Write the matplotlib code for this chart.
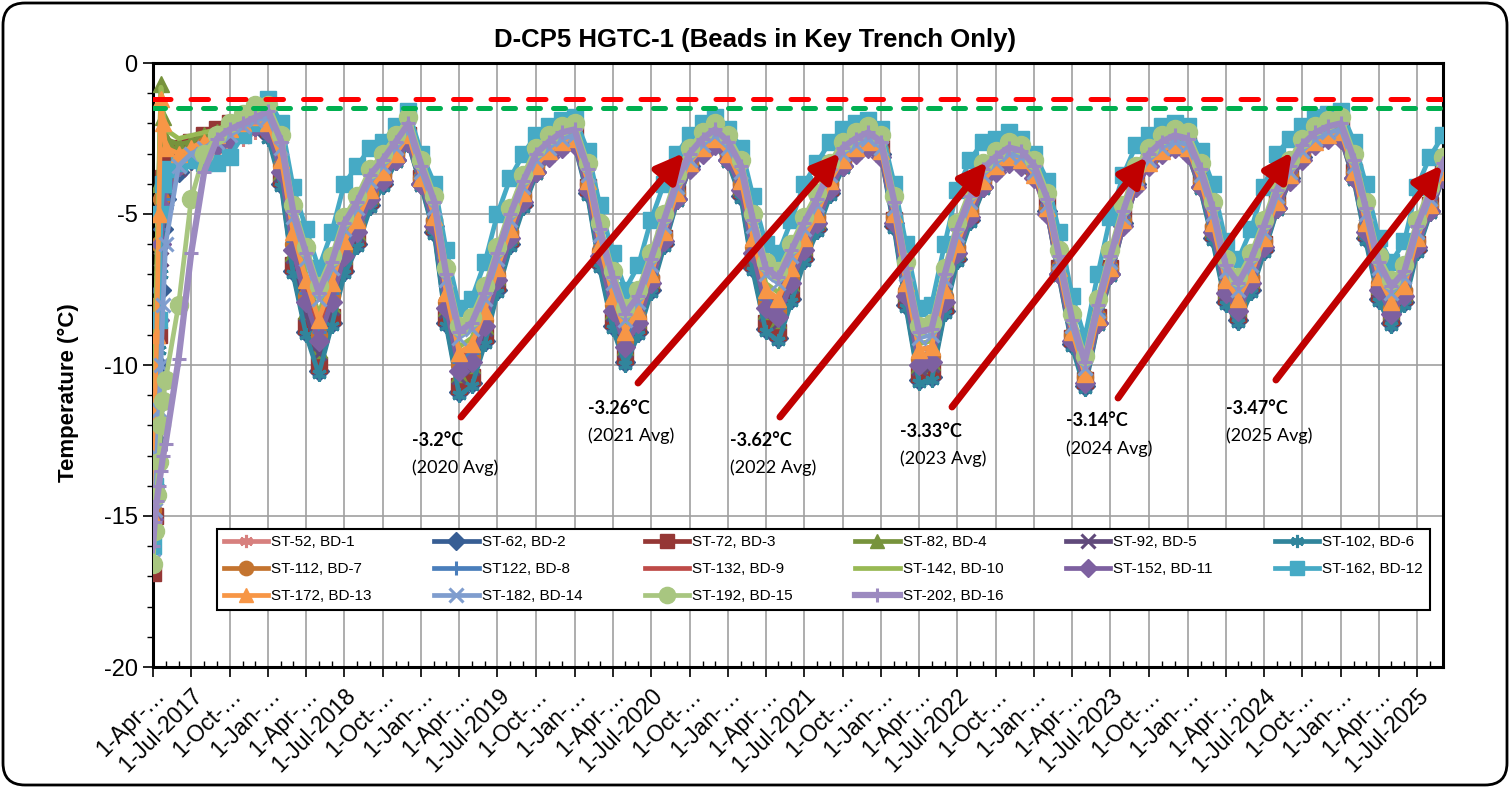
import pandas as pd
import matplotlib
matplotlib.use("Agg")
import matplotlib.pyplot as plt
import matplotlib.dates as mdates
from matplotlib.ticker import MultipleLocator
from matplotlib.patches import FancyBboxPatch
from matplotlib.transforms import IdentityTransform

""" D-CP5 HGTC-1 bead temperatures in the key trench. """

# reading dates: extra readings during the April 2017 freeze-back,
# then the first of every month
early_dates = ["2017-04-01", "2017-04-05", "2017-04-10", "2017-04-15",
               "2017-04-20", "2017-04-25"]
monthly_start = "2017-05-01"
monthly_end = "2025-09-01"

# bead temperatures (deg C), one row per calendar year
st52_bd1 = [
    -14.8, -13.0, -11.0, -8.5, -6.0, -4.8, -4.0, -3.6, -3.3, -3.0, -3.0, -2.8, -2.5, -2.3,
    -2.4, -3.9, -6.6, -8.5, -9.8, -8.3, -6.7, -5.9, -4.7, -4.0, -3.3, -2.7,
    -4.1, -5.6, -8.4, -10.6, -10.3, -9.0, -7.4, -6.0, -4.7, -3.7, -3.1, -2.8,
    -2.7, -4.3, -6.6, -8.5, -9.7, -8.8, -7.5, -6.0, -4.6, -3.5, -3.0, -2.7,
    -3.3, -4.4, -6.6, -8.5, -8.8, -7.6, -6.4, -5.5, -4.3, -3.5, -3.0, -2.8,
    -3.1, -5.4, -7.9, -10.3, -10.2, -8.1, -6.5, -5.2, -4.2, -3.6, -3.3, -3.4,
    -3.8, -5.0, -7.1, -9.3, -10.7, -8.7, -7.1, -5.4, -4.1, -3.4, -3.0, -2.8,
    -3.0, -4.2, -5.8, -7.8, -8.4, -7.5, -6.2, -4.9, -3.9, -3.2, -2.7, -2.5,
    -2.5, -3.9, -5.8, -7.7, -8.5, -7.9, -6.2, -5.0, -3.8]
st62_bd2 = [
    -15.5, -14.0, -12.5, -10.0, -7.5, -5.5, -4.5, -3.6, -3.2, -2.9, -2.7, -2.5, -2.3, -2.1,
    -2.4, -4.0, -6.9, -8.9, -10.2, -8.6, -6.9, -6.0, -4.7, -4.0, -3.2, -2.6,
    -4.0, -5.6, -8.6, -10.9, -10.6, -9.2, -7.5, -6.0, -4.7, -3.6, -3.0, -2.7,
    -2.6, -4.3, -6.7, -8.7, -9.9, -8.9, -7.5, -6.0, -4.5, -3.4, -2.9, -2.6,
    -3.2, -4.4, -6.8, -8.8, -9.1, -7.8, -6.5, -5.5, -4.3, -3.4, -2.9, -2.7,
    -3.0, -5.4, -8.0, -10.5, -10.4, -8.2, -6.5, -5.2, -4.1, -3.5, -3.2, -3.3,
    -3.6, -4.9, -7.0, -9.3, -10.7, -8.6, -7.0, -5.3, -4.0, -3.2, -2.8, -2.6,
    -2.9, -4.1, -5.8, -7.9, -8.5, -7.5, -6.2, -4.8, -3.8, -3.1, -2.5, -2.3,
    -2.4, -3.8, -5.8, -7.8, -8.6, -7.9, -6.2, -4.9, -3.7]
st72_bd3 = [
    -16.9, -15.0, -13.0, -9.0, -5.0, -3.8, -3.2, -2.8, -2.6, -2.4, -2.2, -2.0, -1.8, -1.7,
    -2.2, -3.8, -6.7, -8.7, -10.0, -8.4, -6.7, -5.8, -4.5, -3.8, -3.0, -2.4,
    -3.8, -5.4, -8.4, -10.7, -10.4, -9.0, -7.3, -5.8, -4.5, -3.4, -2.8, -2.5,
    -2.4, -4.1, -6.5, -8.5, -9.7, -8.7, -7.3, -5.8, -4.3, -3.2, -2.7, -2.4,
    -3.0, -4.2, -6.6, -8.6, -8.9, -7.6, -6.3, -5.3, -4.1, -3.2, -2.7, -2.5,
    -2.8, -5.2, -7.8, -10.3, -10.2, -8.0, -6.3, -5.0, -3.9, -3.3, -3.0, -3.1,
    -3.4, -4.7, -6.8, -9.1, -10.5, -8.4, -6.8, -5.1, -3.8, -3.0, -2.6, -2.4,
    -2.7, -3.9, -5.6, -7.7, -8.3, -7.3, -6.0, -4.6, -3.6, -2.9, -2.3, -2.1,
    -2.2, -3.6, -5.6, -7.6, -8.4, -7.7, -6.0, -4.7, -3.5]
st82_bd4 = [
    -15.0, -11.5, -8.0, -4.0, -0.7, -1.8, -2.5, -2.7, -2.6, -2.4, -2.3, -2.1, -2.0, -1.9,
    -2.1, -3.6, -6.3, -8.2, -9.5, -8.0, -6.4, -5.6, -4.4, -3.7, -3.0, -2.4,
    -3.8, -5.3, -8.1, -10.3, -10.0, -8.7, -7.1, -5.7, -4.4, -3.4, -2.8, -2.5,
    -2.4, -4.0, -6.3, -8.2, -9.4, -8.5, -7.2, -5.7, -4.3, -3.2, -2.7, -2.4,
    -3.0, -4.1, -6.3, -8.2, -8.5, -7.3, -6.1, -5.2, -4.0, -3.2, -2.7, -2.5,
    -2.8, -5.1, -7.6, -10.0, -9.9, -7.8, -6.2, -4.9, -3.9, -3.3, -3.0, -3.1,
    -3.5, -4.7, -6.8, -9.0, -10.4, -8.4, -6.8, -5.1, -3.8, -3.1, -2.7, -2.5,
    -2.7, -3.9, -5.5, -7.5, -8.1, -7.2, -5.9, -4.6, -3.6, -2.9, -2.4, -2.2,
    -2.2, -3.6, -5.5, -7.4, -8.2, -7.6, -5.9, -4.7, -3.5]
st92_bd5 = [
    -14.5, -12.5, -10.5, -8.5, -6.5, -5.3, -4.5, -3.5, -3.1, -2.8, -2.6, -2.4, -2.2, -2.0,
    -2.2, -3.7, -6.4, -8.3, -9.6, -8.1, -6.5, -5.7, -4.5, -3.8, -3.1, -2.5,
    -3.9, -5.4, -8.2, -10.4, -10.1, -8.8, -7.2, -5.8, -4.5, -3.5, -2.9, -2.6,
    -2.5, -4.1, -6.4, -8.3, -9.5, -8.6, -7.3, -5.8, -4.4, -3.3, -2.8, -2.5,
    -3.1, -4.2, -6.4, -8.3, -8.6, -7.4, -6.2, -5.3, -4.1, -3.3, -2.8, -2.6,
    -2.9, -5.2, -7.7, -10.1, -10.0, -7.9, -6.3, -5.0, -4.0, -3.4, -3.1, -3.2,
    -3.6, -4.8, -6.9, -9.1, -10.5, -8.5, -6.9, -5.2, -3.9, -3.2, -2.8, -2.6,
    -2.8, -4.0, -5.6, -7.6, -8.2, -7.3, -6.0, -4.7, -3.7, -3.0, -2.5, -2.3,
    -2.3, -3.7, -5.6, -7.5, -8.3, -7.7, -6.0, -4.8, -3.6]
st102_bd6 = [
    -15.8, -14.0, -12.0, -9.5, -7.0, -5.2, -4.2, -3.5, -3.1, -2.8, -2.8, -2.6, -2.3, -2.1,
    -2.5, -4.1, -7.0, -9.0, -10.3, -8.7, -7.0, -6.1, -4.8, -4.1, -3.3, -2.7,
    -4.1, -5.7, -8.7, -11.0, -10.7, -9.3, -7.6, -6.1, -4.8, -3.7, -3.1, -2.8,
    -2.7, -4.4, -6.8, -8.8, -10.0, -9.0, -7.6, -6.1, -4.6, -3.5, -3.0, -2.7,
    -3.3, -4.5, -6.9, -8.9, -9.2, -7.9, -6.6, -5.6, -4.4, -3.5, -3.0, -2.8,
    -3.1, -5.5, -8.1, -10.6, -10.5, -8.3, -6.6, -5.3, -4.2, -3.6, -3.3, -3.4,
    -3.7, -5.0, -7.1, -9.4, -10.8, -8.7, -7.1, -5.4, -4.1, -3.3, -2.9, -2.7,
    -3.0, -4.2, -5.9, -8.0, -8.6, -7.6, -6.3, -4.9, -3.9, -3.2, -2.6, -2.4,
    -2.5, -3.9, -5.9, -7.9, -8.7, -8.0, -6.3, -5.0, -3.8]
st112_bd7 = [
    -14.8, -11.0, -8.0, -6.0, -4.5, -4.0, -3.8, -3.4, -3.0, -2.7, -2.5, -2.3, -2.1, -1.9,
    -2.1, -3.4, -6.0, -7.7, -9.0, -7.7, -6.2, -5.4, -4.3, -3.7, -3.0, -2.4,
    -3.8, -5.2, -7.9, -10.0, -9.7, -8.5, -7.0, -5.6, -4.4, -3.4, -2.9, -2.6,
    -2.5, -4.0, -6.2, -8.0, -9.2, -8.4, -7.1, -5.7, -4.3, -3.3, -2.8, -2.5,
    -3.0, -4.0, -6.1, -7.9, -8.2, -7.1, -6.0, -5.1, -4.0, -3.2, -2.8, -2.6,
    -2.9, -5.1, -7.5, -9.8, -9.7, -7.7, -6.1, -4.9, -3.9, -3.4, -3.1, -3.2,
    -3.6, -4.8, -6.8, -9.0, -10.4, -8.4, -6.8, -5.2, -3.9, -3.2, -2.8, -2.6,
    -2.8, -3.9, -5.4, -7.4, -8.0, -7.1, -5.9, -4.6, -3.7, -3.0, -2.5, -2.3,
    -2.3, -3.6, -5.4, -7.3, -8.1, -7.5, -5.9, -4.7, -3.6]
st122_bd8 = [
    -15.2, -13.3, -11.5, -8.5, -5.5, -4.5, -3.8, -3.3, -3.0, -2.7, -2.6, -2.4, -2.2, -2.0,
    -2.0, -3.3, -5.9, -7.6, -8.9, -7.6, -6.1, -5.3, -4.2, -3.6, -2.9, -2.3,
    -3.7, -5.1, -7.8, -9.9, -9.6, -8.4, -6.9, -5.5, -4.3, -3.3, -2.8, -2.5,
    -2.4, -3.9, -6.1, -7.9, -9.1, -8.3, -7.0, -5.6, -4.2, -3.2, -2.7, -2.4,
    -2.9, -3.9, -6.0, -7.8, -8.1, -7.0, -5.9, -5.0, -3.9, -3.1, -2.7, -2.5,
    -2.8, -5.0, -7.4, -9.7, -9.6, -7.6, -6.0, -4.8, -3.8, -3.3, -3.0, -3.1,
    -3.5, -4.7, -6.7, -8.9, -10.3, -8.3, -6.7, -5.1, -3.8, -3.1, -2.7, -2.5,
    -2.7, -3.8, -5.3, -7.3, -7.9, -7.0, -5.8, -4.5, -3.6, -2.9, -2.4, -2.2,
    -2.2, -3.5, -5.3, -7.2, -8.0, -7.4, -5.8, -4.6, -3.5]
st132_bd9 = [
    -15.6, -13.0, -10.0, -7.0, -4.0, -3.7, -3.5, -3.1, -2.8, -2.6, -2.4, -2.2, -2.0, -1.9,
    -1.8, -3.1, -5.7, -7.4, -8.7, -7.4, -5.9, -5.1, -4.0, -3.4, -2.7, -2.1,
    -3.5, -4.9, -7.6, -9.7, -9.4, -8.2, -6.7, -5.3, -4.1, -3.1, -2.6, -2.3,
    -2.2, -3.7, -5.9, -7.7, -8.9, -8.1, -6.8, -5.4, -4.0, -3.0, -2.5, -2.2,
    -2.7, -3.7, -5.8, -7.6, -7.9, -6.8, -5.7, -4.8, -3.7, -2.9, -2.5, -2.3,
    -2.6, -4.8, -7.2, -9.5, -9.4, -7.4, -5.8, -4.6, -3.6, -3.1, -2.8, -2.9,
    -3.3, -4.5, -6.5, -8.7, -10.1, -8.1, -6.5, -4.9, -3.6, -2.9, -2.5, -2.3,
    -2.5, -3.6, -5.1, -7.1, -7.7, -6.8, -5.6, -4.3, -3.4, -2.7, -2.2, -2.0,
    -2.0, -3.3, -5.1, -7.0, -7.8, -7.2, -5.6, -4.4, -3.3]
st142_bd10 = [
    -14.6, -10.5, -6.5, -3.5, -0.8, -1.6, -2.2, -2.5, -2.4, -2.3, -2.2, -2.0, -1.9, -1.7,
    -1.8, -3.0, -5.4, -7.0, -8.3, -7.1, -5.7, -5.0, -4.0, -3.4, -2.8, -2.2,
    -3.6, -4.9, -7.4, -9.4, -9.1, -8.0, -6.6, -5.3, -4.1, -3.2, -2.7, -2.4,
    -2.3, -3.7, -5.8, -7.5, -8.7, -8.0, -6.8, -5.4, -4.1, -3.1, -2.6, -2.3,
    -2.8, -3.7, -5.6, -7.3, -7.6, -6.6, -5.6, -4.8, -3.7, -3.0, -2.6, -2.4,
    -2.7, -4.8, -7.1, -9.3, -9.2, -7.3, -5.8, -4.6, -3.7, -3.2, -2.9, -3.0,
    -3.5, -4.6, -6.6, -8.7, -10.1, -8.2, -6.6, -5.0, -3.7, -3.1, -2.7, -2.5,
    -2.6, -3.7, -5.1, -7.0, -7.6, -6.8, -5.6, -4.4, -3.5, -2.8, -2.4, -2.2,
    -2.1, -3.4, -5.1, -6.9, -7.7, -7.2, -5.6, -4.5, -3.4]
st152_bd11 = [
    -15.1, -13.0, -11.0, -8.5, -6.0, -4.8, -4.0, -3.4, -3.0, -2.8, -2.7, -2.5, -2.3, -2.1,
    -2.3, -3.6, -6.2, -7.9, -9.2, -7.9, -6.4, -5.6, -4.5, -3.9, -3.2, -2.6,
    -4.0, -5.4, -8.1, -10.2, -9.9, -8.7, -7.2, -5.8, -4.6, -3.6, -3.1, -2.8,
    -2.7, -4.2, -6.4, -8.2, -9.4, -8.6, -7.3, -5.9, -4.5, -3.5, -3.0, -2.7,
    -3.2, -4.2, -6.3, -8.1, -8.4, -7.3, -6.2, -5.3, -4.2, -3.4, -3.0, -2.8,
    -3.1, -5.3, -7.7, -10.0, -9.9, -7.9, -6.3, -5.1, -4.1, -3.6, -3.3, -3.4,
    -3.8, -5.0, -7.0, -9.2, -10.6, -8.6, -7.0, -5.4, -4.1, -3.4, -3.0, -2.8,
    -3.0, -4.1, -5.6, -7.6, -8.2, -7.3, -6.1, -4.8, -3.9, -3.2, -2.7, -2.5,
    -2.5, -3.8, -5.6, -7.5, -8.3, -7.7, -6.1, -4.9, -3.8]
st162_bd12 = [
    -16.0, -14.0, -12.0, -8.5, -5.0, -4.0, -3.5, -3.3, -3.2, -3.3, -3.3, -3.1, -2.4, -2.0,
    -1.2, -2.0, -4.1, -5.5, -6.8, -5.6, -4.0, -3.4, -2.8, -2.6, -2.1, -1.6,
    -3.0, -4.0, -6.2, -8.1, -7.8, -6.6, -5.0, -3.8, -3.0, -2.4, -2.1, -1.9,
    -1.8, -2.9, -4.7, -6.3, -7.5, -6.7, -5.2, -4.0, -3.0, -2.4, -2.0, -1.8,
    -2.2, -2.8, -4.4, -6.0, -6.3, -5.2, -4.0, -3.3, -2.6, -2.2, -2.0, -1.9,
    -2.2, -4.0, -6.0, -8.1, -8.0, -6.0, -4.2, -3.2, -2.6, -2.5, -2.3, -2.5,
    -3.0, -3.9, -5.6, -7.7, -9.1, -7.0, -5.1, -3.7, -2.7, -2.4, -2.1, -2.0,
    -2.1, -2.9, -4.0, -5.9, -6.5, -5.5, -4.1, -3.0, -2.5, -2.1, -1.8, -1.7,
    -1.6, -2.6, -4.0, -5.8, -6.6, -5.9, -4.1, -3.1, -2.4]
st172_bd13 = [
    -15.0, -12.0, -9.0, -5.0, -1.2, -2.0, -2.8, -3.0, -2.8, -2.6, -2.4, -2.2, -2.0, -1.8,
    -2.0, -3.2, -5.6, -7.2, -8.5, -7.3, -5.9, -5.2, -4.2, -3.6, -3.0, -2.4,
    -3.8, -5.1, -7.6, -9.6, -9.3, -8.2, -6.8, -5.5, -4.3, -3.4, -2.9, -2.6,
    -2.5, -3.9, -6.0, -7.7, -8.9, -8.2, -7.0, -5.6, -4.3, -3.3, -2.8, -2.5,
    -3.0, -3.9, -5.8, -7.5, -7.8, -6.8, -5.8, -5.0, -3.9, -3.2, -2.8, -2.6,
    -2.9, -5.0, -7.3, -9.5, -9.4, -7.5, -6.0, -4.8, -3.9, -3.4, -3.1, -3.2,
    -3.7, -4.8, -6.8, -8.9, -10.3, -8.4, -6.8, -5.2, -3.9, -3.3, -2.9, -2.7,
    -2.8, -3.9, -5.3, -7.2, -7.8, -7.0, -5.8, -4.6, -3.7, -3.0, -2.6, -2.4,
    -2.3, -3.6, -5.3, -7.1, -7.9, -7.4, -5.8, -4.7, -3.6]
st182_bd14 = [
    -16.5, -14.8, -13.0, -11.5, -10.0, -8.0, -6.0, -3.4, -3.0, -2.8, -2.6, -2.4, -2.1, -1.9,
    -1.8, -2.8, -5.1, -6.5, -7.8, -6.8, -5.5, -4.8, -3.9, -3.4, -2.8, -2.2,
    -3.6, -4.8, -7.2, -9.1, -8.8, -7.8, -6.5, -5.2, -4.1, -3.2, -2.8, -2.5,
    -2.4, -3.7, -5.7, -7.3, -8.5, -7.9, -6.7, -5.4, -4.1, -3.2, -2.7, -2.4,
    -2.8, -3.6, -5.4, -7.0, -7.3, -6.4, -5.5, -4.7, -3.7, -3.0, -2.7, -2.5,
    -2.8, -4.8, -7.0, -9.1, -9.0, -7.2, -5.7, -4.6, -3.7, -3.3, -3.0, -3.1,
    -3.6, -4.7, -6.6, -8.7, -10.1, -8.2, -6.6, -5.1, -3.8, -3.2, -2.8, -2.6,
    -2.7, -3.7, -5.0, -6.9, -7.5, -6.7, -5.6, -4.4, -3.6, -2.9, -2.5, -2.3,
    -2.2, -3.4, -5.0, -6.8, -7.6, -7.1, -5.6, -4.5, -3.5]
st192_bd15 = [
    -16.6, -15.5, -14.3, -13.2, -12.0, -11.2, -10.5, -8.0, -4.5, -3.0, -2.4, -2.0, -1.7, -1.4,
    -1.4, -2.4, -4.7, -6.1, -7.4, -6.4, -5.1, -4.4, -3.5, -3.0, -2.4, -1.8,
    -3.2, -4.4, -6.8, -8.7, -8.4, -7.4, -6.1, -4.8, -3.7, -2.8, -2.4, -2.1,
    -2.0, -3.3, -5.3, -6.9, -8.1, -7.5, -6.3, -5.0, -3.7, -2.8, -2.3, -2.0,
    -2.4, -3.2, -5.0, -6.6, -6.9, -6.0, -5.1, -4.3, -3.3, -2.6, -2.3, -2.1,
    -2.4, -4.4, -6.6, -8.7, -8.6, -6.8, -5.3, -4.2, -3.3, -2.9, -2.6, -2.7,
    -3.2, -4.3, -6.2, -8.3, -9.7, -7.8, -6.2, -4.7, -3.4, -2.8, -2.4, -2.2,
    -2.3, -3.3, -4.6, -6.5, -7.1, -6.3, -5.2, -4.0, -3.2, -2.5, -2.1, -1.9,
    -1.8, -3.0, -4.6, -6.4, -7.2, -6.7, -5.2, -4.1, -3.1]
st202_bd16 = [
    -16.0, -15.2, -14.5, -14.0, -13.5, -13.0, -12.6, -9.8, -6.3, -3.6, -2.5, -2.2, -2.0, -1.8,
    -1.6, -2.6, -4.9, -6.3, -7.6, -6.6, -5.3, -4.6, -3.7, -3.2, -2.6, -2.0,
    -3.4, -4.6, -7.0, -8.9, -8.6, -7.6, -6.3, -5.0, -3.9, -3.0, -2.6, -2.3,
    -2.2, -3.5, -5.5, -7.1, -8.3, -7.7, -6.5, -5.2, -3.9, -3.0, -2.5, -2.2,
    -2.6, -3.4, -5.2, -6.8, -7.1, -6.2, -5.3, -4.5, -3.5, -2.8, -2.5, -2.3,
    -2.6, -4.6, -6.8, -8.9, -8.8, -7.0, -5.5, -4.4, -3.5, -3.1, -2.8, -2.9,
    -3.4, -4.5, -6.4, -8.5, -9.9, -8.0, -6.4, -4.9, -3.6, -3.0, -2.6, -2.4,
    -2.5, -3.5, -4.8, -6.7, -7.3, -6.5, -5.4, -4.2, -3.4, -2.7, -2.3, -2.1,
    -2.0, -3.2, -4.8, -6.6, -7.4, -6.9, -5.4, -4.3, -3.3]

series_values = [st52_bd1, st62_bd2, st72_bd3, st82_bd4, st92_bd5, st102_bd6,
                 st112_bd7, st122_bd8, st132_bd9, st142_bd10, st152_bd11,
                 st162_bd12, st172_bd13, st182_bd14, st192_bd15, st202_bd16]
series_labels = ["ST-52, BD-1", "ST-62, BD-2", "ST-72, BD-3", "ST-82, BD-4",
                 "ST-92, BD-5", "ST-102, BD-6", "ST-112, BD-7", "ST122, BD-8",
                 "ST-132, BD-9", "ST-142, BD-10", "ST-152, BD-11",
                 "ST-162, BD-12", "ST-172, BD-13", "ST-182, BD-14",
                 "ST-192, BD-15", "ST-202, BD-16"]
series_colors = ["#D7807E", "#375E94", "#953735", "#77933C", "#604A7B",
                 "#31859C", "#C4742F", "#4A7EBB", "#BE4B48", "#98B954",
                 "#7D60A0", "#46AAC5", "#F79646", "#7F9DCE", "#A8C680",
                 "#9C8AC0"]
series_markers = [(6, 2, 0), "D", "s", "^", "x", (6, 2, 0), "o", "+", None,
                  None, "D", "s", "^", "x", "o", "+"]

# x axis: a labelled tick every three months
tick_start = "2017-04-01"
tick_end = "2025-07-01"
tick_labels = ["1-Apr-…", "1-Jul-2017", "1-Oct-…", "1-Jan-…",
               "1-Apr-…", "1-Jul-2018", "1-Oct-…", "1-Jan-…",
               "1-Apr-…", "1-Jul-2019", "1-Oct-…", "1-Jan-…",
               "1-Apr-…", "1-Jul-2020", "1-Oct-…", "1-Jan-…",
               "1-Apr-…", "1-Jul-2021", "1-Oct-…", "1-Jan-…",
               "1-Apr-…", "1-Jul-2022", "1-Oct-…", "1-Jan-…",
               "1-Apr-…", "1-Jul-2023", "1-Oct-…", "1-Jan-…",
               "1-Apr-…", "1-Jul-2024", "1-Oct-…", "1-Jan-…",
               "1-Apr-…", "1-Jul-2025"]

# reference levels (deg C)
red_level = -1.2
green_level = -1.5

# yearly average callouts
avg_values = ["-3.2°C", "-3.26°C", "-3.62°C", "-3.33°C", "-3.14°C", "-3.47°C"]
avg_years = ["(2020 Avg)", "(2021 Avg)", "(2022 Avg)", "(2023 Avg)",
             "(2024 Avg)", "(2025 Avg)"]

FIG_W, FIG_H = 1510, 788
plt.rcParams["font.family"] = ["Liberation Sans", "DejaVu Sans"]
plt.rcParams["axes.unicode_minus"] = False

dates = pd.to_datetime(early_dates).append(
    pd.date_range(monthly_start, monthly_end, freq="MS"))
for v in series_values:
    assert len(v) == len(dates)

fig = plt.figure(figsize=(FIG_W / 100, FIG_H / 100), dpi=100)
ax = fig.add_axes([153 / FIG_W, 1 - 667 / FIG_H, 1290 / FIG_W, 604 / FIG_H])


def marker_style(mk, lab):
    """ marker size / edge width roughly matching the Excel markers """
    if mk in ("x", "+") or isinstance(mk, tuple):
        return 10.5, 2.2
    if mk == "o":
        return (13, 1) if lab.startswith("ST-192") else (11.5, 1)
    if mk == "D":
        return 10, 1
    return 11, 1


handles = []
for vals, lab, col, mk in zip(series_values, series_labels, series_colors,
                              series_markers):
    ms, mew = marker_style(mk, lab)
    lw = 4.5 if lab.startswith("ST-202") else 3.4
    h, = ax.plot(dates, vals, color=col, lw=lw, marker=mk, ms=ms, mew=mew,
                 mfc=col, mec=col, label=lab, zorder=3)
    handles.append(h)

# target levels on top of the data
ax.axhline(red_level, color="#FF0000", lw=3.6, dashes=(3.5, 4.0),
           dash_capstyle="round", zorder=6)
ax.axhline(green_level, color="#00B050", lw=3.6, dashes=(2.4, 2.6),
           dash_capstyle="round", zorder=6)

# axes, ticks, grid
ax.set_xlim(pd.Timestamp(tick_start), pd.Timestamp(monthly_end))
ax.set_ylim(-20, 0)
ax.yaxis.set_major_locator(MultipleLocator(5))
ax.yaxis.set_minor_locator(MultipleLocator(1))
ax.set_xticks(pd.date_range(tick_start, tick_end, freq="3MS"))
ax.set_xticklabels(tick_labels, rotation=45, ha="right", va="top",
                   rotation_mode="anchor", fontsize=16.5)
ax.xaxis.set_minor_locator(mdates.MonthLocator())
ax.tick_params(axis="x", which="major", direction="out", length=7, width=1.2,
               pad=5)
ax.tick_params(axis="x", which="minor", direction="in", length=4, width=1)
ax.tick_params(axis="y", which="major", direction="out", length=7, width=1.2,
               labelsize=17, pad=4)
ax.tick_params(axis="y", which="minor", direction="out", length=4, width=1)
ax.grid(which="major", color="#A0A0A0", lw=1.2, zorder=0)
ax.set_axisbelow(True)
for sp in ax.spines.values():
    sp.set_linewidth(2.2)
    sp.set_color("black")

# legend laid out row by row like the original (6 columns)
ncol = 6
nrow = 3
order = []
for c in range(ncol):
    for r in range(nrow):
        i = r * ncol + c
        if i < len(handles):
            order.append(i)
leg = ax.legend([handles[i] for i in order], [series_labels[i] for i in order],
                ncol=ncol, loc="center", mode="expand",
                bbox_to_anchor=(0.0496, 0.091, 0.9403, 0.141),
                borderaxespad=0, fontsize=11, handlelength=2.9,
                handletextpad=0.2, labelspacing=0.85, columnspacing=0.5,
                borderpad=0.45, markerscale=0.9,
                fancybox=False, framealpha=1, edgecolor="black")
leg.get_frame().set_linewidth(1.5)
leg.set_zorder(7)

# yearly average callouts (axes fraction)
text_pos = [(0.2008, 0.3758), (0.3372, 0.4288), (0.4473, 0.3758),
            (0.5791, 0.3907), (0.7078, 0.4073), (0.8318, 0.4288)]
arrow_tail = [(0.2388, 0.4139), (0.3760, 0.4702), (0.4860, 0.4139),
              (0.6194, 0.4305), (0.7481, 0.4454), (0.8705, 0.4752)]
arrow_head = [(0.4116, 0.8510), (0.5326, 0.8510), (0.6465, 0.8361),
              (0.7705, 0.8444), (0.8829, 0.8526), (0.9992, 0.8311)]
for val, yr, tp, tail, head in zip(avg_values, avg_years, text_pos,
                                   arrow_tail, arrow_head):
    ax.text(tp[0], tp[1], val, transform=ax.transAxes, fontsize=13,
            fontweight="bold", family=["Lato", "DejaVu Sans"],
            ha="left", va="center", zorder=8)
    ax.text(tp[0], tp[1] - 0.046, yr, transform=ax.transAxes, fontsize=13,
            family=["Lato", "DejaVu Sans"], ha="left", va="center", zorder=8)
    ax.annotate("", xy=head, xytext=tail, xycoords="axes fraction",
                textcoords="axes fraction", zorder=8,
                arrowprops=dict(arrowstyle="-|>,head_length=1.2,head_width=0.6",
                                mutation_scale=14, color="#C00000", lw=5,
                                shrinkA=0, shrinkB=0))

fig.text(0.5, 1 - 40 / FIG_H, "D-CP5 HGTC-1 (Beads in Key Trench Only)",
         ha="center", va="center", fontsize=18.5, fontweight="bold")
fig.text(68 / FIG_W, 1 - 393 / FIG_H, "Temperature (°C)", rotation=90,
         ha="center", va="center", fontsize=16, fontweight="bold")

# rounded chart-area border
border = FancyBboxPatch((3, 3), FIG_W - 6, FIG_H - 6,
                        boxstyle="round,pad=0,rounding_size=22",
                        transform=IdentityTransform(), fill=False,
                        ec="black", lw=2)
fig.add_artist(border)

fig.savefig("out.png", dpi=100)
